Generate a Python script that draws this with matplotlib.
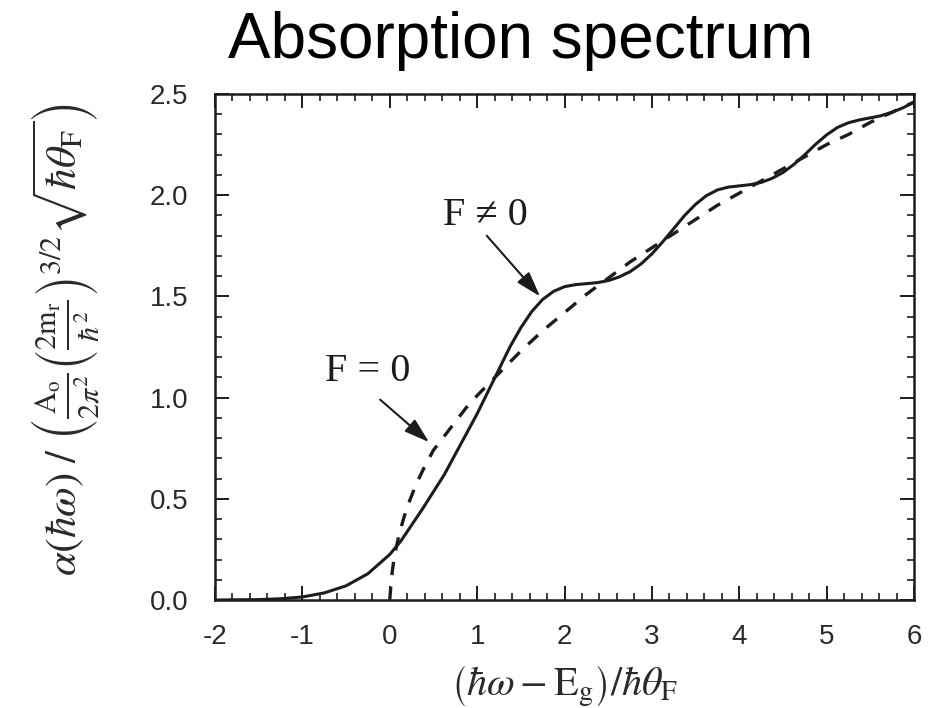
import matplotlib
matplotlib.use('Agg')
import matplotlib.pyplot as plt
from matplotlib.ticker import MultipleLocator

# F != 0 (solid)
x_field = [-2.0, -1.5, -1.25, -1.0, -0.75, -0.5, -0.25, 0.0, 0.125, 0.25, 0.375, 0.5,
           0.625, 0.75, 0.875, 1.0, 1.125, 1.25, 1.375, 1.5, 1.625, 1.75, 1.875, 2.0,
           2.125, 2.25, 2.375, 2.5, 2.625, 2.75, 2.875, 3.0, 3.125, 3.25, 3.375, 3.5,
           3.625, 3.75, 3.875, 4.0, 4.125, 4.25, 4.375, 4.5, 4.625, 4.75, 4.875, 5.0,
           5.125, 5.25, 5.375, 5.5, 5.625, 5.75, 5.875, 6.0]
y_field = [0.0, 0.002, 0.006, 0.015, 0.035, 0.07, 0.13, 0.225, 0.29, 0.37, 0.45, 0.535,
           0.62, 0.72, 0.82, 0.92, 1.03, 1.14, 1.25, 1.345, 1.425, 1.485, 1.525, 1.548,
           1.558, 1.563, 1.568, 1.578, 1.596, 1.622, 1.66, 1.71, 1.77, 1.835, 1.9, 1.955,
           1.998, 2.026, 2.04, 2.046, 2.052, 2.063, 2.083, 2.112, 2.152, 2.2, 2.252, 2.298,
           2.335, 2.358, 2.372, 2.382, 2.393, 2.41, 2.432, 2.46]

# F = 0 (dashed)
x_free = [0.0, 0.02, 0.05, 0.1, 0.15, 0.2, 0.3, 0.4, 0.5, 0.625, 0.75, 0.875, 1.0,
          1.25, 1.5, 1.75, 2.0, 2.25, 2.5, 2.75, 3.0, 3.25, 3.5, 3.75, 4.0, 4.25,
          4.5, 4.75, 5.0, 5.25, 5.5, 5.75, 6.0]
y_free = [0.0, 0.11, 0.21, 0.31, 0.39, 0.46, 0.57, 0.66, 0.74, 0.81, 0.88, 0.95, 1.01,
          1.12, 1.23, 1.33, 1.42, 1.51, 1.59, 1.67, 1.74, 1.81, 1.88, 1.95, 2.01,
          2.07, 2.13, 2.19, 2.25, 2.30, 2.36, 2.41, 2.46]

x_ticks = [-2, -1, 0, 1, 2, 3, 4, 5, 6]
y_ticks = [0.0, 0.5, 1.0, 1.5, 2.0, 2.5]

plt.rcParams['mathtext.fontset'] = 'stix'
plt.rcParams['font.family'] = ['Liberation Sans', 'DejaVu Sans']

ink = '#1c1c1c'

fig = plt.figure(figsize=(9.34, 7.08), dpi=100)
ax = fig.add_axes([215/934, 1 - 600/708, 699/934, 506/708])

ax.plot(x_field, y_field, color=ink, lw=2.2, solid_capstyle='round')
ax.plot(x_free, y_free, color=ink, lw=2.4, dashes=(4, 3.5))

ax.set_xlim(-2, 6)
ax.set_ylim(0, 2.5)
ax.set_xticks(x_ticks)
ax.set_yticks(y_ticks)
ax.set_xticklabels([str(v) for v in x_ticks])
ax.set_yticklabels([f'{v:.1f}' for v in y_ticks])
ax.xaxis.set_minor_locator(MultipleLocator(0.2))
ax.yaxis.set_minor_locator(MultipleLocator(0.1))

ax.tick_params(which='both', direction='in', top=True, right=True, colors=ink,
               labelcolor='#2a2a2a', labelsize=20)
ax.tick_params(which='major', length=10, width=1.4)
ax.tick_params(which='minor', length=5, width=1.2)
ax.tick_params(axis='x', which='major', pad=17)
ax.tick_params(axis='y', which='major', pad=19)
for s in ax.spines.values():
    s.set_linewidth(1.8)
    s.set_color(ink)

# annotations
arrow = dict(arrowstyle='-|>,head_length=0.7,head_width=0.22', lw=1.5, color=ink,
             mutation_scale=22, shrinkA=0, shrinkB=0)
ax.text(-0.25, 1.13, 'F = 0', fontsize=29, family='Liberation Serif', color=ink,
        ha='center', va='center')
ax.annotate('', xy=(0.45, 0.78), xytext=(-0.11, 0.99), arrowprops=arrow)
ax.text(1.09, 1.90, 'F \u2260 0', fontsize=29, family=['Liberation Serif', 'DejaVu Serif'],
        color=ink, ha='center', va='center')
ax.annotate('', xy=(1.72, 1.50), xytext=(1.11, 1.80), arrowprops=arrow)

fig.text(0.557, 1 - 58/708, 'Absorption spectrum', fontsize=46, ha='center',
         va='baseline', color='black')

fig.text(66/934, 1 - 340/708,
         r'$\alpha(\hbar\omega)\ /\ \left(\frac{\mathrm{A_o}}{2\pi^2}'
         r'\left(\frac{2\mathrm{m_r}}{\hbar^2}\right)^{3/2}'
         r'\sqrt{\hbar\theta_\mathrm{F}}\right)$',
         rotation=90, fontsize=31, ha='center', va='center', color='#2a2a2a')
fig.text(565/934, 1 - 686/708,
         r'$\left(\hbar\omega - \mathrm{E_g}\right)/\hbar\theta_\mathrm{F}$',
         fontsize=29, ha='center', va='center', color='#2a2a2a')

fig.savefig('out.png', dpi=100)
